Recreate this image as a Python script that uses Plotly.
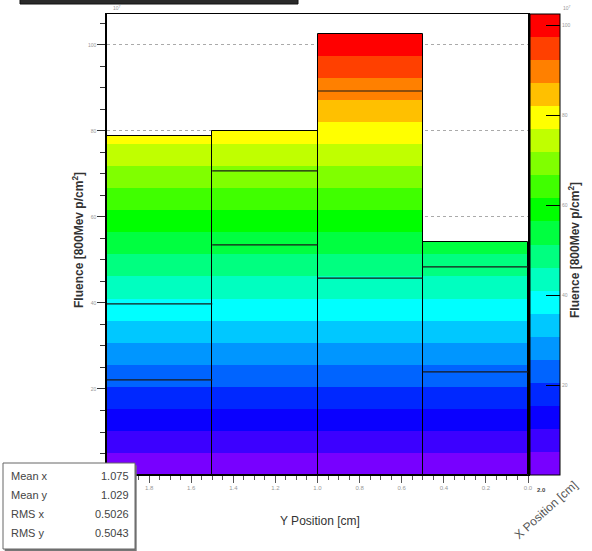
import plotly.graph_objects as go

# ---- data ----
bin_edges = [2.0, 1.5, 1.0, 0.5, 0.0]          # Y Position [cm] bin edges (axis reversed)
front_row = [78.8, 80.0, 102.6, 54.2]           # visible (front) lego row
back_row_a = [39.8, 70.7, 89.3, 48.4]           # hidden rows (top edges seen as lines)
back_row_b = [22.1, 53.5, 45.8, 24.0]
palette = ["#7800ff", "#3c00ff", "#0a00ff", "#0028ff", "#0064ff", "#0096ff", "#00c8ff",
           "#00ffff", "#00ffc0", "#00ff80", "#00ff40", "#00ff00", "#40ff00", "#80ff00",
           "#c0ff00", "#ffff00", "#ffc000", "#ff8000", "#ff4000", "#ff0000"]
y_ticks = [0, 20, 40, 60, 80, 100]
x_ticks = [1.8, 1.6, 1.4, 1.2, 1.0, 0.8, 0.6, 0.4, 0.2, 0.0]
stats = [("Mean x", "1.075"), ("Mean y", "1.029"), ("RMS x", "0.5026"), ("RMS y", "0.5043")]

nlev = len(palette)
zmax = max(front_row)
step = zmax / nlev
centers = [(bin_edges[i] + bin_edges[i + 1]) / 2 for i in range(len(front_row))]
widths = [abs(bin_edges[i] - bin_edges[i + 1]) for i in range(len(front_row))]

fig = go.Figure()

# colour bands inside each bar
for k, col in enumerate(palette):
    lo = k * step
    h = [max(0.0, min(v - lo, step)) for v in front_row]
    fig.add_trace(go.Bar(x=centers, y=h, base=[lo] * len(h), width=widths,
                         marker=dict(color=col, line=dict(width=0)),
                         hoverinfo="skip", showlegend=False))

# bar outlines
fig.add_trace(go.Bar(x=centers, y=front_row, width=widths,
                     marker=dict(color="rgba(0,0,0,0)", line=dict(color="black", width=1)),
                     hoverinfo="skip", showlegend=False))

# hidden row edges
for row in (back_row_a, back_row_b):
    xs, ys = [], []
    for i, v in enumerate(row):
        xs += [bin_edges[i], bin_edges[i + 1], None]
        ys += [v, v, None]
    fig.add_trace(go.Scatter(x=xs, y=ys, mode="lines", line=dict(color="#1a1a1a", width=1.2),
                             hoverinfo="skip", showlegend=False))

# colour bar
cs = []
for k, col in enumerate(palette):
    cs.append([k / nlev, col])
    cs.append([(k + 1) / nlev, col])
fig.add_trace(go.Scatter(
    x=[None], y=[None], mode="markers", showlegend=False, hoverinfo="skip",
    marker=dict(colorscale=cs, cmin=0, cmax=zmax, color=[0], showscale=True,
                colorbar=dict(x=(530 - 107) / 421, xanchor="left", xpad=0, ypad=0,
                              y=0, yanchor="bottom", len=1, lenmode="fraction",
                              thickness=30, outlinecolor="black", outlinewidth=1,
                              ticks="inside", ticklen=14, tickcolor="black",
                              tickvals=y_ticks[1:], tickfont=dict(size=5, color="#999"),
                              ))))

fig.update_layout(
    width=592, height=551,
    margin=dict(l=107, r=64, t=14, b=76, autoexpand=False),
    paper_bgcolor="white", plot_bgcolor="white",
    barmode="overlay", bargap=0,
    font=dict(family="Liberation Sans, Arial", color="#333"),
    xaxis=dict(range=[2.0, 0.0], tickvals=x_ticks, ticktext=[f"{v:.1f}" for v in x_ticks],
               ticks="outside", ticklen=7, tickcolor="#555", tickfont=dict(size=6, color="#999"),
               minor=dict(dtick=0.05, ticks="outside", ticklen=4, tickcolor="#555"),
               showline=True, linecolor="black", linewidth=1, mirror=True,
               showgrid=False, zeroline=False),
    yaxis=dict(range=[0, 107.2], tickvals=y_ticks, ticks="outside", ticklen=8,
               tickcolor="#333", tickfont=dict(size=5, color="#999"),
               minor=dict(dtick=5, ticks="outside", ticklen=5, tickcolor="#333", showgrid=False),
               showline=True, linecolor="black", linewidth=1.5, mirror=True,
               showgrid=True, gridcolor="#aaa", griddash="dot", gridwidth=1, zeroline=False),
)


def px_ann(px, py, text, size, color="#333", angle=0, xanchor="center"):
    fig.add_annotation(xref="paper", yref="paper", x=(px - 107) / 421, y=(475 - py) / 461,
                       xanchor=xanchor, yanchor="middle", text=text, textangle=angle,
                       showarrow=False, font=dict(size=size, color=color))


# titles
px_ann(78, 240, "<b>Fluence [800Mev p/cm<sup>2</sup>]</b>", 12, angle=-90)
px_ann(574, 250, "<b>Fluence [800Mev p/cm<sup>2</sup>]</b>", 12, angle=-90)
px_ann(320, 521, "Y Position [cm]", 12)
px_ann(546, 510, "X Position [cm]", 12, color="#555", angle=-42)
px_ann(541, 490, "<b>2.0</b>", 6, color="#444")
px_ann(117, 8, "10<sup>7</sup>", 5, color="#999")
px_ann(567, 8, "10<sup>7</sup>", 5, color="#999")

# title box remnant at top
fig.add_shape(type="rect", xref="paper", yref="paper",
              x0=(20 - 107) / 421, x1=(298 - 107) / 421,
              y0=(475 - 4) / 461, y1=(475 + 4) / 461,
              fillcolor="#2a2a2a", line=dict(color="#111", width=1))

# stats box
bx0, bx1 = (3 - 107) / 421, (135 - 107) / 421
by0, by1 = (475 - 549) / 461, (475 - 463) / 461
fig.add_shape(type="rect", xref="paper", yref="paper", x0=bx0 + 0.004, x1=bx1 + 0.004,
              y0=by0 - 0.005, y1=by1 - 0.005, fillcolor="#777", line=dict(width=0))
fig.add_shape(type="rect", xref="paper", yref="paper", x0=bx0, x1=bx1, y0=by0, y1=by1,
              fillcolor="white", line=dict(color="#666", width=1))
for i, (lab, val) in enumerate(stats):
    py = 476 + i * 19.0
    px_ann(9, py, lab, 11, color="#444", xanchor="left")
    px_ann(131, py, val, 11, color="#444", xanchor="right")

fig.write_html("out.html")
